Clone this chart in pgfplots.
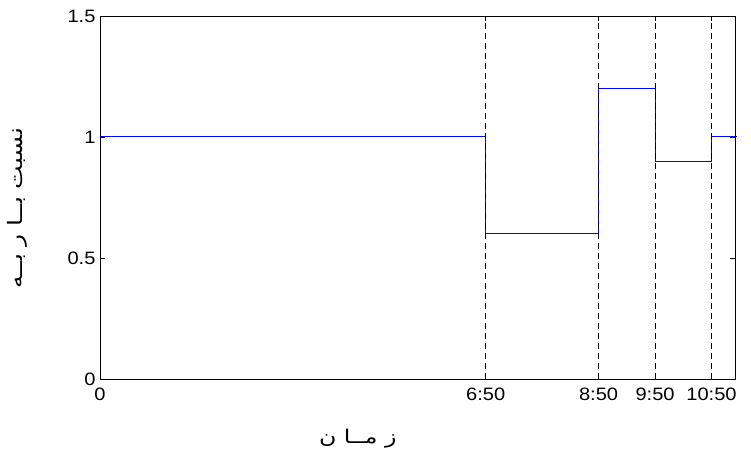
\documentclass[border=0pt]{standalone}
\usepackage{pgfplots}
\pgfplotsset{compat=1.18}
\usepackage{fontspec}
\setmainfont{Liberation Sans}
\newfontfamily\ticfont[FakeStretch=1.12]{Liberation Sans}
\newfontfamily\arabicfont[Script=Arabic,FakeStretch=1.25]{DejaVu Sans}
\TeXXeTstate=1
\usetikzlibrary{calc}
\begin{document}
\begin{tikzpicture}
\begin{axis}[
  name=ax,
  scale only axis,
  width=635bp, height=363bp,
  xmin=0, xmax=675, ymin=0, ymax=1.5,
  xtick={0,410,530,590,650},
  xticklabels={0,6:50,8:50,9:50,10:50},
  ytick={0,0.5,1,1.5},
  yticklabels={0,0.5,1,1.5},
  tick align=inside,
  major tick length=5bp,
  tick style={black, line width=0.6pt},
  tick label style={font=\ticfont\fontsize{18}{20}\selectfont},
  /pgf/number format/assume math mode=true,
  xticklabel style={yshift=-5bp},
  yticklabel style={xshift=-1bp},
  axis line style={black, line width=0.6pt},
  xlabel={\arabicfont\fontsize{19}{22}\selectfont\beginR ز مــا ن\endR},
  xlabel style={at={(axis description cs:0.406,-0.163)}, anchor=center},
  ylabel={\arabicfont\fontsize{20}{22}\selectfont\beginR نسبت  بــا  ر  بــه\endR},
  ylabel style={at={(axis description cs:-0.13,0.47)}, anchor=center},
  clip=false,
]
\addplot[color={rgb,255:red,0;green,0;blue,255}, line width=1bp, const plot] coordinates {
  (0,1) (410,0.6) (530,1.2) (590,0.9) (650,1) (677,1)
};
\addplot[black, line width=0.6pt, dash pattern=on 6bp off 4bp] coordinates {(410,0) (410,1.5)};
\addplot[black, line width=0.6pt, dash pattern=on 6bp off 4bp] coordinates {(530,0) (530,1.5)};
\addplot[black, line width=0.6pt, dash pattern=on 6bp off 4bp] coordinates {(590,0) (590,1.5)};
\addplot[black, line width=0.6pt, dash pattern=on 6bp off 4bp] coordinates {(650,0) (650,1.5)};
\end{axis}
\pgfresetboundingbox
\useasboundingbox ($(ax.south west)+(-100bp,-76bp)$) rectangle ($(ax.north east)+(16bp,16bp)$);
\end{tikzpicture}
\end{document}
